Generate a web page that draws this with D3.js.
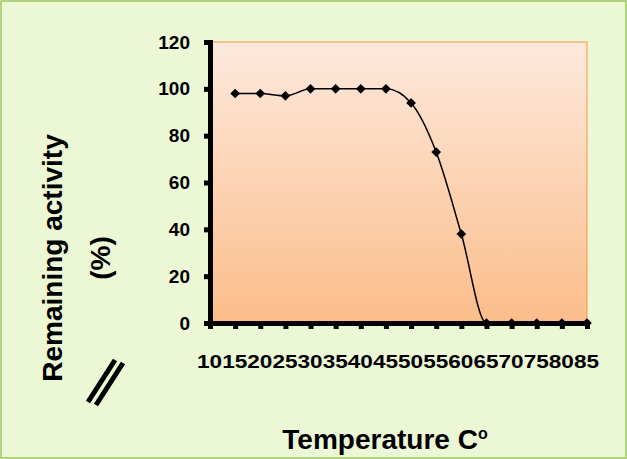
<!DOCTYPE html>
<html>
<head>
<style>
body { margin: 0; }
text { font-family: "Liberation Sans", Arial, sans-serif; font-weight: bold; }
</style>
</head>
<body>
<div id="chart"></div>
<script src="https://cdn.jsdelivr.net/npm/d3@7"></script>
<script>
// data
const temps = [10, 15, 20, 25, 30, 35, 40, 45, 50, 55, 60, 65, 70, 75, 80];
const activity = [98, 98, 97, 100, 100, 100, 100, 94, 73, 38, 0, 0, 0, 0, 0];
const tickLabels = ['10','15','20','25','30','35','40','45','50','55','60','65','70','75','80','85'];
const yTicks = [0, 20, 40, 60, 80, 100, 120];

const W = 627, H = 459;
const plot = {left: 210, right: 587, top: 42, bottom: 323};

const svg = d3.select('#chart').append('svg').attr('width', W).attr('height', H);

svg.append('rect').attr('x', 1).attr('y', 1).attr('width', W - 2).attr('height', H - 2)
    .attr('fill', '#ecf7d6').attr('stroke', '#9bc45a').attr('stroke-width', 1.5);

let grad = svg.append('defs').append('linearGradient').attr('id', 'bg')
    .attr('x1', 0).attr('y1', 0).attr('x2', 0).attr('y2', 1);
grad.append('stop').attr('offset', '0%').attr('stop-color', '#fde9dd');
grad.append('stop').attr('offset', '100%').attr('stop-color', '#fbbd8a');

svg.append('rect').attr('x', plot.left).attr('y', plot.top)
    .attr('width', plot.right - plot.left).attr('height', plot.bottom - plot.top)
    .attr('fill', 'url(#bg)').attr('stroke', '#f79646').attr('stroke-width', 1);

let x = d3.scaleLinear().domain([5, 80]).range([plot.left, plot.right]);
let y = d3.scaleLinear().domain([0, 120]).range([plot.bottom, plot.top]);

// y axis
svg.append('g').attr('transform', `translate(${plot.left},0)`)
    .call(d3.axisLeft(y).tickValues(yTicks).tickSize(6).tickPadding(14))
    .call(g => g.select('.domain').attr('stroke-width', 5))
    .call(g => g.selectAll('.tick line').attr('stroke-width', 5).attr('x1', -6).attr('x2', 0))
    .call(g => g.selectAll('.tick text').attr('font-size', 19).attr('fill', '#000'));

// x axis
svg.append('g').attr('transform', `translate(0,${plot.bottom})`)
    .call(d3.axisBottom(x).tickValues(d3.range(5, 81, 5)).tickSize(6).tickFormat(''))
    .call(g => g.select('.domain').attr('stroke-width', 5))
    .call(g => g.selectAll('.tick line').attr('stroke-width', 5));

let xl = d3.scaleBand().domain(tickLabels).range([197, 599]);
svg.append('g').selectAll('text').data(tickLabels).join('text')
    .attr('x', d => xl(d) + xl.bandwidth() / 2).attr('y', 368)
    .attr('text-anchor', 'middle').attr('font-size', 19).attr('textLength', xl.bandwidth())
    .attr('lengthAdjust', 'spacingAndGlyphs').text(d => d);

// line
let pts = temps.map((t, i) => [x(t), y(activity[i])]);
svg.append('path').attr('d', d3.line().curve(d3.curveMonotoneX)(pts))
    .attr('fill', 'none').attr('stroke', '#000').attr('stroke-width', 1.5);

svg.append('g').selectAll('path').data(pts).join('path')
    .attr('transform', d => `translate(${d[0]},${d[1]})`)
    .attr('d', d3.symbol(d3.symbolDiamond2, 60)).attr('fill', '#000');

// titles
svg.append('text').attr('transform', 'translate(62,258) rotate(-90)')
    .attr('text-anchor', 'middle').attr('font-size', 28).text('Remaining activity');
svg.append('text').attr('transform', 'translate(110,258) rotate(-90)')
    .attr('text-anchor', 'middle').attr('font-size', 28).text('(%)');

let xt = svg.append('text').attr('x', 385).attr('y', 449).attr('text-anchor', 'middle').attr('font-size', 28);
xt.append('tspan').text('Temperature C');
xt.append('tspan').attr('dy', -10).attr('font-size', 16).text('o');

// axis break mark
svg.append('path').attr('d', 'M88 402 L115 360 M96 405 L123 363')
    .attr('stroke', '#000').attr('stroke-width', 5);
</script>
</body>
</html>
